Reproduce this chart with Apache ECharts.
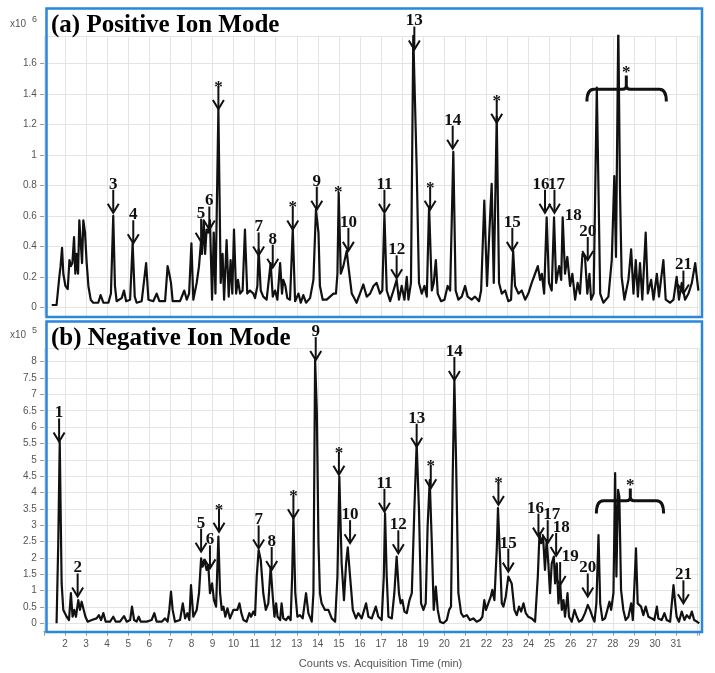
<!DOCTYPE html>
<html><head><meta charset="utf-8">
<script src="https://cdn.jsdelivr.net/npm/echarts@6/dist/echarts.min.js"></script>
<style>html,body{margin:0;padding:0;background:#fff}#c{width:715px;height:673px}</style>
</head><body><div id="c"></div>
<script>
// ---------------- DATA ----------------
// (a) Positive ion mode, counts x10^6
const posTime = [1.37,1.60,1.73,1.79,1.86,1.92,2.02,2.13,2.21,2.28,2.35,2.43,2.49,2.55,2.62,2.68,2.74,2.81,2.87,2.95,3.03,3.11,3.22,3.34,3.58,3.69,3.82,4.06,4.18,4.29,4.37,4.45,4.69,4.80,4.90,5.09,5.21,5.31,5.40,5.64,5.85,5.96,6.19,6.35,6.48,6.75,6.87,6.95,7.03,7.11,7.46,7.66,7.78,7.89,8.00,8.09,8.25,8.36,8.46,8.50,8.58,8.65,8.72,8.80,8.88,8.98,9.06,9.14,9.28,9.39,9.48,9.55,9.67,9.77,9.86,9.94,10.02,10.12,10.21,10.31,10.43,10.54,10.65,10.78,10.94,11.02,11.13,11.19,11.29,11.41,11.57,11.76,11.86,11.97,12.08,12.21,12.30,12.36,12.46,12.55,12.68,12.81,12.92,13.08,13.19,13.31,13.44,13.63,13.79,13.91,14.03,14.10,14.23,14.42,14.58,14.74,14.86,14.93,14.99,15.09,15.21,15.37,15.45,15.61,15.84,16.00,16.16,16.32,16.48,16.64,16.79,16.95,17.06,17.16,17.27,17.43,17.59,17.74,17.85,17.98,18.11,18.22,18.30,18.42,18.53,18.69,18.80,18.93,19.06,19.17,19.28,19.41,19.50,19.60,19.69,19.85,20.01,20.16,20.28,20.43,20.54,20.67,20.83,20.99,21.11,21.30,21.46,21.65,21.75,21.90,22.03,22.14,22.25,22.35,22.49,22.60,22.73,22.89,23.04,23.17,23.27,23.36,23.52,23.68,23.84,23.99,24.15,24.31,24.44,24.55,24.63,24.74,24.86,24.97,25.10,25.21,25.31,25.45,25.55,25.62,25.73,25.84,25.97,26.08,26.21,26.33,26.44,26.56,26.68,26.79,26.89,26.97,27.09,27.24,27.40,27.55,27.79,27.95,28.07,28.15,28.26,28.34,28.42,28.55,28.74,28.87,28.98,29.09,29.19,29.29,29.40,29.56,29.66,29.82,29.93,30.09,30.19,30.40,30.51,30.72,30.88,31.03,31.14,31.27,31.43,31.59,31.75,31.91,32.06];
const posValue = [0.015,0.015,0.20,0.27,0.39,0.22,0.14,0.12,0.31,0.27,0.29,0.46,0.22,0.35,0.22,0.57,0.44,0.29,0.57,0.49,0.29,0.14,0.05,0.03,0.03,0.08,0.03,0.03,0.09,0.60,0.14,0.04,0.06,0.11,0.04,0.05,0.42,0.07,0.03,0.04,0.29,0.05,0.04,0.09,0.04,0.04,0.27,0.22,0.16,0.04,0.04,0.11,0.05,0.09,0.42,0.05,0.16,0.27,0.44,0.35,0.57,0.35,0.51,0.49,0.57,0.05,0.49,0.09,1.30,0.16,0.35,0.05,0.44,0.07,0.31,0.09,0.51,0.09,0.18,0.09,0.11,0.51,0.09,0.11,0.09,0.06,0.14,0.38,0.11,0.07,0.05,0.29,0.07,0.11,0.05,0.29,0.09,0.18,0.14,0.06,0.05,0.51,0.04,0.09,0.03,0.08,0.03,0.06,0.18,0.64,0.49,0.14,0.05,0.05,0.07,0.09,0.09,0.22,0.75,0.22,0.27,0.37,0.27,0.09,0.03,0.09,0.15,0.07,0.09,0.14,0.16,0.09,0.11,0.61,0.11,0.04,0.11,0.18,0.05,0.14,0.05,0.20,0.05,0.16,1.78,0.92,0.16,0.09,0.14,0.07,0.66,0.11,0.16,0.31,0.09,0.04,0.05,0.14,0.11,1.02,0.11,0.05,0.07,0.14,0.07,0.05,0.07,0.04,0.11,0.70,0.14,0.49,0.81,0.16,1.25,0.16,0.09,0.11,0.04,0.05,0.37,0.14,0.09,0.11,0.05,0.09,0.16,0.22,0.27,0.18,0.22,0.09,0.59,0.16,0.11,0.59,0.16,0.27,0.18,0.59,0.22,0.33,0.14,0.22,0.05,0.16,0.09,0.35,0.33,0.09,0.22,0.05,0.09,1.44,0.09,0.03,0.07,0.31,0.86,0.33,1.85,0.77,0.20,0.05,0.18,0.38,0.09,0.31,0.07,0.29,0.05,0.49,0.09,0.18,0.05,0.22,0.07,0.31,0.05,0.03,0.05,0.20,0.05,0.16,0.05,0.09,0.16,0.29,0.11];

// (b) Negative ion mode, counts x10^5
const negTime = [1.60,1.68,1.75,1.84,1.92,2.08,2.19,2.28,2.36,2.44,2.52,2.63,2.71,2.79,2.87,2.97,3.08,3.27,3.34,3.50,3.61,3.71,3.82,3.93,4.14,4.29,4.41,4.61,4.80,4.93,5.09,5.18,5.28,5.40,5.50,5.59,5.88,6.11,6.24,6.35,6.59,6.75,6.87,6.95,7.03,7.11,7.22,7.46,7.59,7.70,7.81,7.90,7.98,8.09,8.25,8.36,8.46,8.53,8.61,8.72,8.80,8.88,8.98,9.07,9.17,9.28,9.36,9.44,9.52,9.61,9.71,9.83,9.99,10.07,10.18,10.28,10.37,10.47,10.62,10.75,10.83,10.94,11.02,11.10,11.19,11.29,11.41,11.53,11.65,11.76,11.86,11.94,12.02,12.09,12.21,12.28,12.36,12.49,12.60,12.71,12.78,12.84,12.93,13.03,13.15,13.28,13.44,13.55,13.71,13.79,13.87,13.95,14.03,14.10,14.18,14.34,14.50,14.66,14.82,14.93,15.02,15.13,15.24,15.34,15.42,15.53,15.66,15.81,15.92,16.08,16.29,16.40,16.56,16.75,16.87,17.03,17.13,17.19,17.27,17.35,17.51,17.63,17.74,17.85,17.93,18.01,18.11,18.22,18.35,18.46,18.58,18.69,18.80,18.90,19.01,19.12,19.21,19.31,19.41,19.50,19.60,19.69,19.80,19.96,20.12,20.23,20.32,20.40,20.48,20.56,20.67,20.80,20.91,21.07,21.22,21.38,21.54,21.70,21.81,21.90,21.98,22.09,22.21,22.28,22.38,22.49,22.55,22.65,22.73,22.81,22.92,23.04,23.12,23.20,23.33,23.44,23.55,23.65,23.76,23.87,23.99,24.15,24.31,24.44,24.52,24.60,24.69,24.78,24.86,24.94,25.02,25.10,25.20,25.26,25.34,25.42,25.50,25.58,25.66,25.73,25.85,25.92,26.05,26.18,26.29,26.40,26.53,26.68,26.81,26.92,27.03,27.13,27.22,27.32,27.40,27.51,27.63,27.74,27.84,27.92,28.03,28.11,28.17,28.25,28.31,28.39,28.50,28.61,28.74,28.87,28.95,29.03,29.10,29.18,29.25,29.34,29.45,29.56,29.69,29.85,29.97,30.09,30.16,30.32,30.45,30.56,30.72,30.80,30.88,30.96,31.03,31.14,31.27,31.40,31.51,31.64,31.75,31.86,31.99,32.10];
const negValue = [0,2.45,5.56,1.22,0.41,0.20,0.10,0.92,0.20,0.41,0.20,0.71,0.41,0.66,0.71,0.20,0.05,0.10,0.05,0.15,0.25,0.10,0.31,0.05,0.05,0.20,0.05,0.05,0.22,0.05,0.10,0.51,0.10,0.05,0.20,0.05,0.05,0.10,0.31,0.05,0.05,0.15,0.05,0.41,0.97,0.41,0.05,0.10,0.61,0.15,0.31,0.10,1.17,0.20,0.41,0.92,1.99,1.73,1.94,1.63,1.78,0.92,1.22,0.71,0.51,2.65,0.92,0.41,0.51,0.20,0.46,0.15,0.41,0.46,0.41,0.61,0.31,0.10,0.05,0.31,0.20,0.36,0.25,1.43,2.24,1.94,0.92,0.41,0.61,1.73,0.82,0.20,0.61,0.20,0.10,0.61,0.15,0.10,0.20,0.10,1.43,3.26,0.92,0.20,0.25,0.15,0.92,0.31,0.05,0.92,8.05,6.52,2.45,0.92,0.61,0.41,0.41,0.15,0.05,1.43,4.49,1.83,0.71,1.83,2.32,1.43,0.41,0.15,0.31,0.15,0.61,0.20,0.15,0.51,0.20,0.10,1.43,3.36,1.43,0.20,0.15,0.92,2.04,0.92,0.61,0.71,0.36,0.31,0.71,0.92,3.47,5.50,3.47,0.61,0.41,0.61,2.96,4.38,2.45,0.41,1.12,0.41,0.05,0,0.10,0.41,0.51,4.49,7.44,4.99,0.92,0.31,0.20,0.25,0.10,0.15,0.05,0.10,0.20,0.71,0.41,0.61,0.82,1.02,0.71,2.24,3.52,1.94,0.61,0.51,0.82,1.43,1.48,1.22,0.41,0.25,0.51,0.36,0.61,0.31,0.20,0.15,0.05,1.43,2.75,2.45,2.65,1.63,2.55,1.83,0.92,1.83,2.04,1.22,1.83,0.61,1.22,0.41,0.71,0.20,0.92,0.20,0.05,0.41,0.20,0.05,0.10,0.31,0.56,0.41,0.20,0.05,0.61,2.70,0.61,0.10,0.15,0.41,0.66,0.41,0.92,4.59,1.43,4.08,3.87,1.02,0.41,0.10,0.20,0.61,0.10,1.22,2.29,0.61,0.66,0.51,0.25,0.51,0.20,0.15,0.10,0.51,0.15,0.10,0.31,0.10,0.05,0.61,1.17,0.61,0.20,0.05,0.36,0.10,0.25,0.15,0.36,0.10,0.05,0];

// tick labels of the shared time axis
const timeTickLabels = ['2','3','4','5','6','7','8','9','10','11','12','13','14','15','16','17','18','19','20','21','22','23','24','25','26','27','28','29','30','31'];

// peak annotations: label, time, value at arrow tip, has arrow
const posAnnoLabels = ['3','4','5','6','*','7','8','*','9','*','10','11','12','13','*','14','*','15','16','17','18','20','21','*'];
const posAnnoTimes  = [4.29,5.24,8.46,8.85,9.28,11.19,11.86,12.81,13.95,14.97,15.45,17.16,17.74,18.58,19.33,20.40,22.49,23.23,24.78,25.23,25.89,26.81,31.35,28.64];
const posAnnoTips   = [0.62,0.42,0.43,0.51,1.30,0.34,0.26,0.51,0.64,0.76,0.37,0.62,0.19,1.69,0.64,1.04,1.21,0.37,0.62,0.62,0.60,0.31,0.09,1.55];
const posAnnoArrow  = [true,true,true,true,true,true,true,true,true,false,true,true,true,true,true,true,true,true,true,true,false,true,true,false];

const negAnnoLabels = ['1','2','5','6','*','7','8','*','9','*','10','11','12','13','*','14','*','15','16','17','18','19','20','21','*'];
const negAnnoTimes  = [1.72,2.60,8.46,8.88,9.31,11.19,11.81,12.84,13.90,15.00,15.53,17.16,17.82,18.69,19.36,20.48,22.57,23.04,24.47,24.91,25.31,25.50,26.81,31.35,28.83];
const negAnnoTips   = [5.56,0.82,2.19,1.68,2.80,2.29,1.63,3.21,8.05,4.54,2.45,3.41,2.14,5.40,4.13,7.44,3.62,1.58,2.65,2.45,2.06,1.17,0.82,0.61,4.25];
const negAnnoArrow  = [true,true,true,true,true,true,true,true,true,true,true,true,true,true,true,true,true,true,true,true,true,true,true,true,false];

// bracket groups: [start time, end time, notch time, bar value, end value, notch value]
const posBracket = [26.77, 30.54, 28.64, 1.43, 1.35, 1.52];
const negBracket = [27.22, 30.41, 28.83, 3.75, 3.36, 4.12];

// ---------------- CHART ----------------
const X0 = 43.93, PXMIN = 21.07, XMIN = 1, XMAX = 32.1;
const GW = (XMAX - XMIN) * PXMIN;
const INK = '#111';
const GRIDC = '#e4e4e4';
const LBL = '#555';
const SANS = 'Arial, "Liberation Sans", sans-serif';
const SERIF = '"Times New Roman", "Liberation Serif", serif';

const labelShift = { neg: { '18': 5, '19': 10, '16': -3, '17': 4 }, pos: { '16': -4, '17': 2 } };

function annoRenderer(labels, arrows, shifts) {
  const LEN = 23, HW = 5.5, HH = 9;
  return function (params, api) {
    const i = params.dataIndex;
    const p = api.coord([api.value(0), api.value(1)]);
    const lab = labels[i];
    const star = lab === '*';
    const dx = shifts[lab] || 0;
    const font = 'bold ' + (star ? 17 : 17) + 'px ' + SERIF;
    const children = [];
    if (arrows[i]) {
      children.push({ type: 'line', shape: { x1: p[0], y1: p[1] - LEN, x2: p[0], y2: p[1] - 1 },
        style: { stroke: INK, lineWidth: 2 } });
      children.push({ type: 'polyline', shape: { points: [[p[0] - HW, p[1] - HH], [p[0], p[1]], [p[0] + HW, p[1] - HH]] },
        style: { stroke: INK, lineWidth: 2, fill: null } });
      children.push({ type: 'text', x: p[0] + dx, y: star ? p[1] - LEN + 10 : p[1] - LEN + 3,
        style: { text: lab, font: font, fill: INK, align: 'center', verticalAlign: 'bottom' } });
    } else if (star) {
      children.push({ type: 'text', x: p[0] + dx, y: p[1] + 10,
        style: { text: lab, font: font, fill: INK, align: 'center', verticalAlign: 'bottom' } });
    } else {
      children.push({ type: 'text', x: p[0] + 5, y: p[1],
        style: { text: lab, font: font, fill: INK, align: 'center', verticalAlign: 'middle' } });
    }
    return { type: 'group', children: children };
  };
}

function bracketRenderer(b) {
  return function (params, api) {
    const a = api.coord([b[0], b[4]]);
    const l = api.coord([b[0], b[3]]);
    const r = api.coord([b[1], b[3]]);
    const re = api.coord([b[1], b[4]]);
    const m = api.coord([b[2], b[3]]);
    const n = api.coord([b[2], b[5]]);
    const c = 7;
    const d = [
      'M', a[0], a[1], 'Q', l[0], l[1], l[0] + c, l[1],
      'L', m[0] - 4, m[1], 'Q', m[0], m[1], m[0], m[1] - 4, 'L', n[0], n[1],
      'M', m[0], m[1] - 4, 'Q', m[0], m[1], m[0] + 4, m[1],
      'L', r[0] - c, r[1], 'Q', r[0], r[1], re[0], re[1]
    ].join(' ');
    return { type: 'path', shape: { pathData: d }, style: { stroke: INK, lineWidth: 3, fill: null } };
  };
}

function mainX(idx) {
  return {
    type: 'value', gridIndex: idx, min: XMIN, max: XMAX, interval: 1,
    axisLine: { show: false }, axisTick: { show: false },
    axisLabel: { show: false },
    splitLine: { show: true, lineStyle: { color: GRIDC, width: 1 } }
  };
}

const panels = [
  { top: 307.3 - 1.78 * 152.5, h: 1.78 * 152.5, max: 1.78, interval: 0.2, strip: 9.2 },
  { top: 623.3 - 8.4 * 32.7, h: 8.4 * 32.7, max: 8.4, interval: 0.5, strip: 8.4 }
];

const option = {
  animation: false,
  backgroundColor: '#fff',
  grid: [
    { left: X0, width: GW, top: panels[0].top, height: panels[0].h },
    { left: X0, width: GW, top: 307.3, height: panels[0].strip },
    { left: X0, width: GW, top: panels[1].top, height: panels[1].h },
    { left: X0, width: GW, top: 623.3, height: panels[1].strip }
  ],
  xAxis: [
    mainX(0), mainX(1), mainX(2),
    {
      type: 'value', gridIndex: 3, min: XMIN, max: XMAX, interval: 1,
      axisLine: { show: true, lineStyle: { color: '#999' } },
      axisTick: { show: true, length: 4, lineStyle: { color: '#999' } },
      axisLabel: { show: true, color: LBL, fontSize: 10, fontFamily: SANS, margin: 8,
        formatter: function (v) { const s = String(Math.round(v)); return (Math.abs(v - Math.round(v)) < 1e-6 && timeTickLabels.indexOf(s) >= 0) ? s : ''; } },
      splitLine: { show: true, lineStyle: { color: GRIDC, width: 1 } },
      name: 'Counts vs. Acquisition Time (min)', nameLocation: 'middle', nameGap: 27,
      nameTextStyle: { color: LBL, fontSize: 11, fontFamily: SANS, padding: [0, 0, 0, 18] }
    }
  ],
  yAxis: [
    {
      type: 'value', gridIndex: 0, min: 0, max: panels[0].max, interval: panels[0].interval,
      axisLine: { show: false },
      axisTick: { show: true, length: 4, lineStyle: { color: '#999' } },
      axisLabel: { color: LBL, fontSize: 10, fontFamily: SANS, margin: 7, showMaxLabel: false,
        formatter: function (v) { return v > 1.7 ? '' : String(+v.toFixed(1)); } },
      splitLine: { show: true, lineStyle: { color: GRIDC, width: 1 } }
    },
    { type: 'value', gridIndex: 1, min: 0, max: 1, show: false },
    {
      type: 'value', gridIndex: 2, min: 0, max: panels[1].max, interval: panels[1].interval,
      axisLine: { show: false },
      axisTick: { show: true, length: 4, lineStyle: { color: '#999' } },
      axisLabel: { color: LBL, fontSize: 10, fontFamily: SANS, margin: 7, showMaxLabel: false,
        formatter: function (v) { return v > 8.2 ? '' : String(+v.toFixed(1)); } },
      splitLine: { show: true, lineStyle: { color: GRIDC, width: 1 } }
    },
    { type: 'value', gridIndex: 3, min: 0, max: 1, show: false }
  ],
  series: [
    {
      type: 'line', xAxisIndex: 0, yAxisIndex: 0, showSymbol: false, smooth: false, clip: true,
      lineStyle: { color: INK, width: 2.2, join: 'round' },
      data: posTime.map(function (t, i) { return [t, posValue[i]]; }), z: 3
    },
    {
      type: 'line', xAxisIndex: 2, yAxisIndex: 2, showSymbol: false, smooth: false, clip: true,
      lineStyle: { color: INK, width: 2.2, join: 'round' },
      data: negTime.map(function (t, i) { return [t, negValue[i]]; }), z: 3
    },
    {
      type: 'custom', xAxisIndex: 0, yAxisIndex: 0, clip: false, z: 5,
      renderItem: annoRenderer(posAnnoLabels, posAnnoArrow, labelShift.pos),
      data: posAnnoTimes.map(function (t, i) { return [t, posAnnoTips[i]]; })
    },
    {
      type: 'custom', xAxisIndex: 2, yAxisIndex: 2, clip: false, z: 5,
      renderItem: annoRenderer(negAnnoLabels, negAnnoArrow, labelShift.neg),
      data: negAnnoTimes.map(function (t, i) { return [t, negAnnoTips[i]]; })
    },
    {
      type: 'custom', xAxisIndex: 0, yAxisIndex: 0, clip: false, z: 5,
      renderItem: bracketRenderer(posBracket), data: [[posBracket[2], posBracket[3]]]
    },
    {
      type: 'custom', xAxisIndex: 2, yAxisIndex: 2, clip: false, z: 5,
      renderItem: bracketRenderer(negBracket), data: [[negBracket[2], negBracket[3]]]
    }
  ],
  graphic: [
    { type: 'rect', z: 100, shape: { x: 46.5, y: 8.5, width: 655.5, height: 308.5 },
      style: { fill: null, stroke: '#2a87da', lineWidth: 2.5 } },
    { type: 'rect', z: 100, shape: { x: 46.5, y: 321.5, width: 655.5, height: 310.5 },
      style: { fill: null, stroke: '#2a87da', lineWidth: 2.5 } },
    { type: 'text', z: 101, x: 51, y: 26,
      style: { text: '(a) Positive Ion Mode', font: 'bold 25px ' + SERIF, fill: '#000', verticalAlign: 'middle' } },
    { type: 'text', z: 101, x: 51, y: 339,
      style: { text: '(b) Negative Ion Mode', font: 'bold 25px ' + SERIF, fill: '#000', verticalAlign: 'middle' } },
    { type: 'text', z: 101, x: 10, y: 24, style: { text: 'x10', font: '10px ' + SANS, fill: LBL, verticalAlign: 'middle' } },
    { type: 'text', z: 101, x: 32, y: 20, style: { text: '6', font: '9px ' + SANS, fill: LBL, verticalAlign: 'middle' } },
    { type: 'text', z: 101, x: 10, y: 335, style: { text: 'x10', font: '10px ' + SANS, fill: LBL, verticalAlign: 'middle' } },
    { type: 'text', z: 101, x: 32, y: 331, style: { text: '5', font: '9px ' + SANS, fill: LBL, verticalAlign: 'middle' } }
  ]
};

const chart = echarts.init(document.getElementById('c'), null, { renderer: 'canvas' });
chart.setOption(option);
</script>
</body></html>
